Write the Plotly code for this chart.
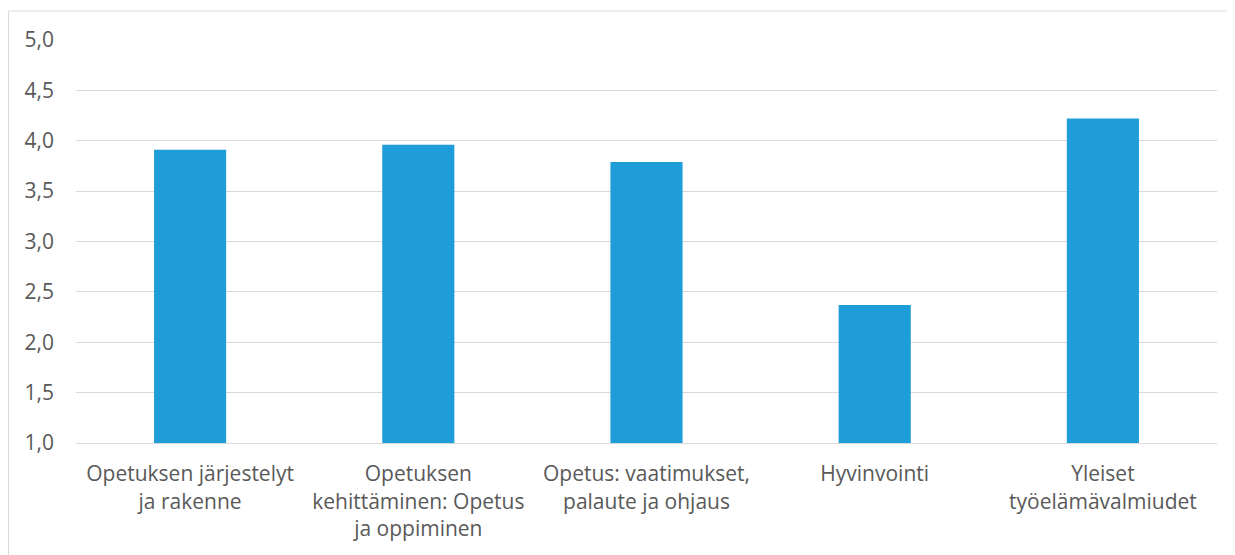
import plotly.graph_objects as go

categories = [
    "Opetuksen järjestelyt<br>ja rakenne",
    "Opetuksen<br>kehittäminen: Opetus<br>ja oppiminen",
    "Opetus: vaatimukset,<br>palaute ja ohjaus",
    "Hyvinvointi",
    "Yleiset<br>työelämävalmiudet",
]
values = [3.91, 3.96, 3.79, 2.37, 4.22]
tick_vals = [1.0, 1.5, 2.0, 2.5, 3.0, 3.5, 4.0, 4.5, 5.0]
tick_text = ["1,0", "1,5", "2,0", "2,5", "3,0", "3,5", "4,0", "4,5", "5,0"]

# page has an 8px body margin; figure sized to fill the rest of the window
W, H = 1227, 547
l, r, t, b = 68, 18, 32, 112
pw, ph = W - l - r, H - t - b

fig = go.Figure(go.Bar(x=categories, y=values, marker_color="#1E9DD8",
                       marker_line_width=0))
fig.update_layout(
    width=W, height=H,
    margin=dict(l=l, r=r, t=t, b=b),
    paper_bgcolor="white", plot_bgcolor="white",
    bargap=0.684,
    showlegend=False,
    font=dict(family="Open Sans, Liberation Sans, sans-serif", size=21, color="#595959"),
)
fig.update_yaxes(range=[1.0, 5.0], tickvals=tick_vals, ticktext=tick_text,
                 showgrid=True, gridcolor="#D9D9D9", gridwidth=1,
                 zeroline=False, showline=False, ticks="", ticklabelstandoff=21,
                 tickfont=dict(size=21, color="#595959"))
fig.update_xaxes(showgrid=False, showline=True, linecolor="#D9D9D9", linewidth=1,
                 ticks="", ticklabelstandoff=12,
                 tickfont=dict(size=21, color="#595959"))
# chart-area border: only top and left edges are visible in the crop
bx0 = -(l - 0.5) / pw
by1 = 1 + (t - 3) / ph
fig.add_shape(type="line", xref="paper", yref="paper",
              x0=bx0, x1=(W + 60 - l) / pw, y0=by1, y1=by1,
              line=dict(color="#D9D9D9", width=1), layer="below")
fig.add_shape(type="line", xref="paper", yref="paper",
              x0=bx0, x1=bx0, y0=-(b + 30) / ph, y1=by1,
              line=dict(color="#D9D9D9", width=1), layer="below")
fig.write_html("out.html")
